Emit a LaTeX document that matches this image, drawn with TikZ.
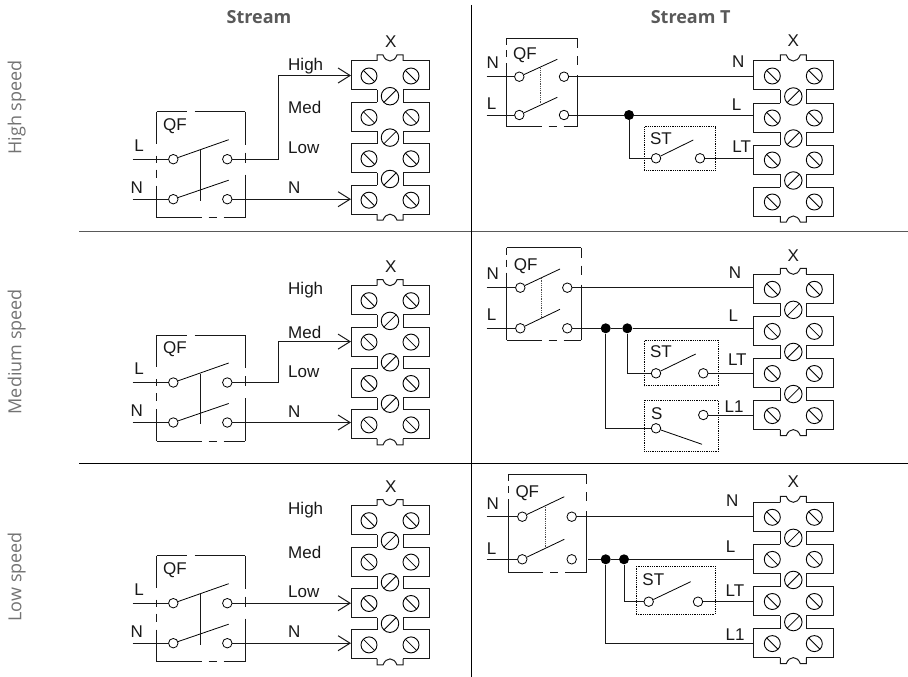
\documentclass[tikz,border=0pt]{standalone}
\usepackage{fontspec}
\setmainfont{Liberation Sans}
\newfontfamily\headfont{Open Sans}
\usetikzlibrary{arrows.meta}

\tikzset{
  wire/.style={line width=1pt,draw=black!90},
  feed/.style={wire,-{Straight Barb[length=12pt,width=15pt]}},
  lbl/.style={font=\fontsize{17}{20}\selectfont,inner sep=0pt,text height=12.2pt,text depth=0pt,text=black!90},
  heading/.style={font=\headfont\bfseries\fontsize{18}{20}\selectfont,inner sep=0pt,text=black!65},
  sidelbl/.style={font=\headfont\fontsize{18}{20}\selectfont,inner sep=0pt,text=black!55,rotate=90},
  contact/.style={shape=circle,draw,fill=white,line width=.8pt,minimum size=9.5pt,inner sep=0pt},
  junction/.style={shape=circle,fill=black,minimum size=10pt,inner sep=0pt},
  dotbox/.style={draw,line width=.8pt,densely dotted,inner sep=0pt},
  linkdot/.style={line width=.8pt,densely dotted,draw=black!70},
  screw/.style={shape=circle,draw,line width=.9pt,inner sep=0pt,minimum size=16pt},
  screwa/.style={screw,path picture={\draw[line width=.8pt] (path picture bounding box.north west) -- (path picture bounding box.south east);}},
  screwb/.style={screw,minimum size=17.5pt,path picture={\draw[line width=.8pt] (path picture bounding box.south west) -- (path picture bounding box.north east);}},
  divider/.style={line width=1pt}
}

\newcommand{\terminals}[5]{% name, centre x, top y, pitch, half width
  \begin{scope}[shift={(#2,#3)}]
    \foreach \row in {1,2,3,4} {
      \pgfmathsetmacro{\ytop}{(\row-1)*#4}
      \pgfmathsetmacro{\ybot}{\ytop+29}
      \pgfmathsetmacro{\ymid}{\ytop+14.5}
      \coordinate (#1-\row) at (-#5,\ymid);
      \draw[wire] (-13,\ytop) -- (-#5,\ytop) -- (-#5,\ybot) -- (-13,\ybot);
      \draw[wire] (13,\ytop) -- (#5,\ytop) -- (#5,\ybot) -- (13,\ybot);
      \path (-21,\ymid+.5) node (#1-l\row) [screwa] {};
      \path (21,\ymid+.5) node (#1-r\row) [screwa] {};
    }
    \foreach \row in {1,2,3} {
      \pgfmathsetmacro{\ynext}{\row*#4}
      \draw[wire] (-13,\ynext-#4+29) -- (-13,\ynext);
      \draw[wire] (13,\ynext-#4+29) -- (13,\ynext);
      \path (0,\ynext-#4/2+14.5) node (#1-m\row) [screwb] {};
    }
    \pgfmathsetmacro{\yend}{3*#4+29}
    \draw[wire] (-13,0) -- (-13,-6) -- (-7,-6) .. controls (-4,2) and (4,2) .. (7,-6) -- (13,-6) -- (13,0);
    \draw[wire] (-13,\yend) -- (-13,\yend+6) -- (-7,\yend+6) .. controls (-4,\yend-2) and (4,\yend-2) .. (7,\yend+6) -- (13,\yend+6) -- (13,\yend);
  \end{scope}
}

\newcommand{\switch}[7]{% name, left contact, right contact, blade end
  \path (#2,#3) node (#1-a) [contact] {};
  \path (#4,#5) node (#1-b) [contact] {};
  \coordinate (#1-t) at (#6,#7);
  \draw[line width=.8pt] (#1-a) -- (#1-t);
}

\newcommand{\qfcorners}[5]{%
  \coordinate (#1-nw) at (#2,#3);
  \coordinate (#1-ne) at (#4,#3);
  \coordinate (#1-sw) at (#2,#5);
  \coordinate (#1-se) at (#4,#5);
}

\newcommand{\qfwide}[5]{% breaker box of the left column
  \qfcorners{#1}{#2}{#3}{#4}{#5}
  \draw[wire,dash pattern=on 30pt off 8pt on 300pt off 0pt] (#1-nw) -- (#1-ne);
  \draw[wire,dash pattern=on 32pt off 12pt on 7pt off 7pt on 8pt off 8pt on 300pt off 0pt] (#1-nw) -- (#1-sw);
  \draw[wire,dash pattern=on 33pt off 8pt on 10pt off 12pt on 300pt off 0pt] (#1-ne) -- (#1-se);
  \draw[wire,dash pattern=on 45pt off 7pt on 8pt off 7pt on 300pt off 0pt] (#1-sw) -- (#1-se);
}

\newcommand{\qfnarrow}[5]{% breaker box of the right column
  \qfcorners{#1}{#2}{#3}{#4}{#5}
  \draw[wire] (#1-nw) -- (#1-ne);
  \draw[wire,dash pattern=on 7pt off 5pt on 7pt off 6pt on 300pt off 0pt] (#1-nw) -- (#1-sw);
  \draw[wire,dash pattern=on 10pt off 8pt on 9pt off 10pt on 300pt off 0pt] (#1-ne) -- (#1-se);
  \draw[wire,dash pattern=on 35pt off 7pt on 8pt off 7pt on 300pt off 0pt] (#1-sw) -- (#1-se);
}

\newcommand{\streamcell}[3]{% name, top of breaker, top of terminals
  \qfwide{#1-qf}{156.7}{#2}{245}{#2+106}
  \switch{#1-s1}{173.3}{#2+47.5}{227.3}{#2+47.5}{228.7}{#2+28}
  \switch{#1-s2}{173.3}{#2+87.5}{227.3}{#2+87.5}{228.7}{#2+68.5}
  \draw[wire] (200.7,#2+38.5) -- (200.7,#2+89);
  \coordinate (#1-inl) at (132.7,#2+47.5);
  \coordinate (#1-inn) at (132.7,#2+87.5);
  \draw[wire] (#1-inl) -- (#1-s1-a);
  \draw[wire] (#1-inn) -- (#1-s2-a);
  \terminals{#1-t}{390}{#3}{41.4}{39}
  \draw[feed] (#1-s2-b) -- (#1-s2-b -| #1-t-4);
  \path (175,#2+12.3) node (#1-qflbl) [lbl] {QF};
  \path (139,#2+33.5) node (#1-llbl) [lbl] {L};
  \path (136.7,#2+75.5) node (#1-nlbl) [lbl] {N};
  \path (288,#3+3) node (#1-high) [lbl,anchor=west] {High};
  \path (288,#3+46.5) node (#1-med) [lbl,anchor=west] {Med};
  \path (288,#3+86) node (#1-low) [lbl,anchor=west] {Low};
  \path (288,#3+126) node (#1-nout) [lbl,anchor=west] {N};
  \path (390.7,#3-19.7) node (#1-x) [lbl] {X};
}

\begin{document}
\begin{tikzpicture}[x=1pt,y=-1pt]
\useasboundingbox (0,0) rectangle (908,677);

\path (259,17.3) node (headleft) [heading] {Stream};
\path (690.7,17.3) node (headright) [heading] {Stream T};
\path (16.7,107.5) node (sidehigh) [sidelbl] {High speed};
\path (16.7,351.7) node (sidemed) [sidelbl] {Medium speed};
\path (16.7,576.7) node (sidelow) [sidelbl] {Low speed};

\draw[divider,line width=1.4pt,draw=black!65] (79.3,231.7) -- (908,231.7);
\draw[divider] (79.3,463.7) -- (908,463.7);
\draw[divider] (471.7,5) -- (471.7,677);

\streamcell{hi}{111.7}{61}
\coordinate (hi-bend) at (278.3,159.2);
\draw[feed] (hi-s1-b) -- (hi-bend) |- (hi-t-1);

\streamcell{me}{335}{285.7}
\coordinate (me-bend) at (278.3,382.5);
\draw[feed] (me-s1-b) -- (me-bend) |- (me-t-2);

\streamcell{lo}{555.7}{505.7}
\draw[feed] (lo-s1-b) -- (lo-s1-b -| lo-t-3);

\qfnarrow{thq}{506.7}{38.3}{577.3}{126.7}
\switch{ths1}{519.3}{76.7}{564}{76.7}{557.3}{59.3}
\switch{ths2}{519.3}{115}{564}{115}{557.3}{97.3}
\draw[linkdot] (540,68.3) -- (540,103);
\coordinate (thn) at (486.7,76.7);
\coordinate (thl) at (486.7,115);
\terminals{tht}{793.3}{61}{42}{40}
\path (629,115) node (thd) [junction] {};
\path (679.7,148.3) node (thst) [dotbox,minimum width=70.7pt,minimum height=43.3pt] {};
\switch{thst1}{656}{158.3}{700}{158.3}{693.3}{140}
\draw[wire] (thn) -- (ths1-a);
\draw[wire] (thl) -- (ths2-a);
\draw[wire] (ths1-b) -- (ths1-b -| tht-1);
\draw[wire] (ths2-b) -- (thd) -- (thd -| tht-2);
\draw[wire] (thd) |- (thst1-a);
\draw[wire] (thst1-b) -- (thst1-b -| tht-3);
\path (525,53.3) node (thqf) [lbl] {QF};
\path (492.7,62.3) node (thnl) [lbl] {N};
\path (491.7,103.3) node (thll) [lbl] {L};
\path (661,138.3) node (thstl) [lbl] {ST};
\path (738.3,61.7) node (thnr) [lbl] {N};
\path (736.7,104) node (thlr) [lbl] {L};
\path (741.7,146.7) node (thltr) [lbl] {LT};
\path (793.3,40.7) node (thx) [lbl] {X};

\qfnarrow{tmq}{506.7}{247.7}{581.3}{340.3}
\switch{tms1}{520.3}{287.7}{567.3}{287.7}{560}{269}
\switch{tms2}{520.3}{328.3}{567.3}{328.3}{560}{309.3}
\draw[linkdot] (541.7,277.7) -- (541.7,317.7);
\coordinate (tmn) at (486.7,287.7);
\coordinate (tml) at (486.7,328.3);
\terminals{tmt}{793.3}{274.3}{42.1}{40}
\path (605.7,328.3) node (tmd1) [junction] {};
\path (627.3,328.3) node (tmd2) [junction] {};
\path (681.2,363) node (tmst) [dotbox,minimum width=74.3pt,minimum height=45.4pt] {};
\path (681.3,425.9) node (tmsb) [dotbox,minimum width=74pt,minimum height=51.7pt] {};
\switch{tmst1}{656}{373.3}{703.3}{373.3}{695.7}{354}
\switch{tms3}{656}{428.3}{703.3}{415}{702}{444.3}
\draw[wire] (tmn) -- (tms1-a);
\draw[wire] (tml) -- (tms2-a);
\draw[wire] (tms1-b) -- (tms1-b -| tmt-1);
\draw[wire] (tms2-b) -- (tmd1) -- (tmd2) -- (tmd2 -| tmt-2);
\draw[wire] (tmd2) |- (tmst1-a);
\draw[wire] (tmd1) |- (tms3-a);
\draw[wire] (tmst1-b) -- (tmst1-b -| tmt-3);
\draw[wire] (tms3-b) -- (tms3-b -| tmt-4);
\path (525.7,264) node (tmqf) [lbl] {QF};
\path (492.7,273.3) node (tmnl) [lbl] {N};
\path (491.7,314.3) node (tmll) [lbl] {L};
\path (661,351.7) node (tmstl) [lbl] {ST};
\path (656.7,413.3) node (tmsl) [lbl] {S};
\path (735,272.7) node (tmnr) [lbl] {N};
\path (733.3,315.7) node (tmlr) [lbl] {L};
\path (737.3,359.3) node (tmltr) [lbl] {LT};
\path (734,406) node (tmlo) [lbl] {L1};
\path (793.3,255) node (tmx) [lbl] {X};

\qfnarrow{tlq}{508.3}{474}{586.7}{572.3}
\switch{tls1}{522.3}{516.7}{571.7}{516.7}{564.3}{496.7}
\switch{tls2}{522.3}{559.3}{571.7}{559.3}{564.3}{539.3}
\draw[linkdot] (545,506.7) -- (545,546.7);
\coordinate (tln) at (486.7,516.7);
\coordinate (tll) at (486.7,559.3);
\coordinate (tlout) at (588.3,559.3);
\terminals{tlt}{793.3}{502.3}{42.1}{40}
\path (605.7,559.3) node (tld1) [junction] {};
\path (624,559.3) node (tld2) [junction] {};
\path (675.5,590.2) node (tlst) [dotbox,minimum width=79pt,minimum height=47.7pt] {};
\switch{tlst1}{648.7}{601.7}{698}{601.7}{690.7}{581.7}
\draw[wire] (tln) -- (tls1-a);
\draw[wire] (tll) -- (tls2-a);
\draw[wire] (tls1-b) -- (tls1-b -| tlt-1);
\draw[wire] (tlout) -- (tld1) -- (tld2) -- (tld2 -| tlt-2);
\draw[wire] (tld2) |- (tlst1-a);
\draw[wire] (tlst1-b) -- (tlst1-b -| tlt-3);
\draw[wire] (tld1) |- (tlt-4);
\path (527.3,491.7) node (tlqf) [lbl] {QF};
\path (492.7,503.3) node (tlnl) [lbl] {N};
\path (491.7,548.3) node (tlll) [lbl] {L};
\path (653.3,579) node (tlstl) [lbl] {ST};
\path (732.3,500.7) node (tlnr) [lbl] {N};
\path (730.7,546.7) node (tllr) [lbl] {L};
\path (735,590) node (tlltr) [lbl] {LT};
\path (735,634) node (tllo) [lbl] {L1};
\path (793.3,481.7) node (tlx) [lbl] {X};

\end{tikzpicture}
\end{document}
